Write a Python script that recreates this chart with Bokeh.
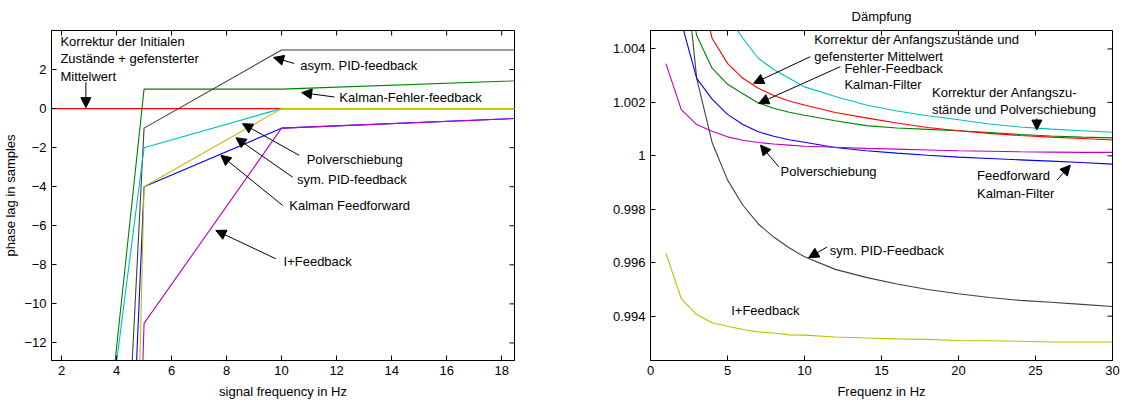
from bokeh.plotting import figure
from bokeh.models import Range1d, FixedTicker, Arrow, NormalHead
from bokeh.layouts import row
from bokeh.core.properties import value
from bokeh.embed import file_html
from bokeh.resources import INLINE

FONT = "Liberation Sans"
FS = "13px"
FRAME_H = 330
TICK_PX = 5

# ---------------- phase lag vs. signal frequency ----------------
lag_freq = [1, 5, 10, 20]
lag_mittelwert = [0, 0, 0, 0]
lag_kalman_fehler = [-52, 1, 1, 1.5]
lag_asym_pid = [-112, -1, 3, 3]
lag_polverschiebung = [-46, -2, 0, 0]
lag_kalman_ff = [-136, -4, -1, -0.42]
lag_sym_pid = [-241, -4, 0, 0]
lag_i_feedback = [-201, -11, -1, -0.42]

lag_xticks = [2, 4, 6, 8, 10, 12, 14, 16, 18]
lag_yticks = [-12, -10, -8, -6, -4, -2, 0, 2]

# ---------------- Dämpfung vs. frequency ----------------
damp_freq = [1, 2, 3, 4, 5, 6, 7, 8, 9, 10, 12, 14, 16, 18, 20, 22, 24, 26, 28, 30]
damp_korr_mittelwert = [1.03, 1.013, 1.0068, 1.0044, 1.00346, 1.0029, 1.00253, 1.00226, 1.00205, 1.0019,
                        1.00162, 1.00142, 1.00123, 1.00106, 1.00094, 1.00084, 1.00076, 1.0007, 1.00065, 1.00059]
damp_fehler_ff = [1.016, 1.0075, 1.0045, 1.00328, 1.00268, 1.00232, 1.00198, 1.00178, 1.00163, 1.00152,
                  1.00131, 1.00113, 1.00104, 1.00099, 1.00094, 1.00087, 1.0008, 1.00074, 1.0007, 1.00067]
damp_korr_polver = [1.04, 1.02, 1.012, 1.0075, 1.0052, 1.0044, 1.00365, 1.00323, 1.0029, 1.00258,
                    1.00222, 1.0019, 1.00168, 1.0015, 1.00135, 1.00119, 1.00108, 1.001, 1.00094, 1.00088]
damp_feedforward = [1.009, 1.005, 1.0029, 1.00212, 1.00155, 1.00117, 1.0009, 1.00073, 1.0006, 1.00051,
                    1.00031, 1.00019, 1.0001, 1.00002, 0.99995, 0.9999, 0.99985, 0.9998, 0.99975, 0.99969]
damp_polverschiebung = [1.00345, 1.00173, 1.00117, 1.00092, 1.00071, 1.00058, 1.0005, 1.00044, 1.0004, 1.00036,
                        1.00032, 1.00028, 1.00025, 1.00022, 1.00019, 1.00017, 1.00015, 1.00014, 1.00013, 1.00013]
damp_sym_pid = [1.018, 1.0085, 1.0029, 1.0005, 0.9991, 0.99815, 0.99745, 0.99696, 0.99656, 0.99622,
                0.99575, 0.99545, 0.9952, 0.995, 0.99484, 0.9947, 0.99459, 0.99452, 0.99444, 0.99436]
damp_i_feedback = [0.99636, 0.99465, 0.99406, 0.99375, 0.99362, 0.9935, 0.99341, 0.99337, 0.9933, 0.99329,
                   0.99322, 0.99318, 0.99315, 0.99313, 0.99309, 0.99308, 0.99306, 0.99303, 0.99303, 0.99303]

damp_xticks = [0, 5, 10, 15, 20, 25, 30]
damp_yticks = [0.994, 0.996, 0.998, 1.0, 1.002, 1.004]
damp_ylabels = ["0.994", "0.996", "0.998", "1", "1.002", "1.004"]

RED, GREEN, BLUE = "#ff0000", "#008000", "#0000ff"
CYAN, MAGENTA, OLIVE, GRAY = "#00bfbf", "#bf00bf", "#bfbf00", "#404040"

# annotation texts and where they sit (data coordinates)
lag_note_text = ["Korrektur der Initialen", "Zustände + gefensterter", "Mittelwert",
                 "asym. PID-feedback", "Kalman-Fehler-feedback", "Polverschiebung",
                 "sym. PID-feedback", "Kalman Feedforward", "I+Feedback"]
lag_note_x = [1.96, 1.96, 1.96, 10.68, 12.10, 10.91, 10.56, 10.28, 10.07]
lag_note_y = [3.415, 2.564, 1.656, 2.22, 0.564, -2.585, -3.64, -4.96, -7.82]
lag_arrows = [(2.885, 1.35, 2.885, 0.05), (10.46, 2.31, 9.71, 2.62), (11.92, 0.595, 10.73, 0.82),
              (10.64, -2.395, 8.58, -0.77), (10.40, -3.51, 8.34, -1.49),
              (10.04, -4.96, 7.79, -2.39), (9.79, -7.69, 7.61, -6.24)]

damp_title = "Dämpfung"
damp_note_text = ["Korrektur der Anfangszustände und", "gefensterter Mittelwert",
                  "Fehler-Feedback", "Kalman-Filter",
                  "Korrektur der Anfangszu-", "stände und Polverschiebung",
                  "Feedforward", "Kalman-Filter", "Polverschiebung", "sym. PID-Feedback", "I+Feedback"]
damp_note_x = [10.64, 10.64, 12.59, 12.59, 18.28, 18.28, 21.2, 21.2, 8.44, 11.64, 5.24]
damp_note_y = [1.004364, 1.003712, 1.003277, 1.002651, 1.002362, 1.00174,
               0.99925, 0.99859, 0.9994, 0.996464, 0.994214]
damp_arrows = [(10.38, 1.003712, 6.70, 1.002715), (12.33, 1.003337, 7.03, 1.001965),
               (25.09, 1.001402, 25.09, 1.000964), (26.39, 0.999089, 27.26, 0.999651),
               (8.33, 0.999588, 7.14, 1.000401), (11.47, 0.996588, 10.27, 0.99619)]


def style_axis(ax, ticks, label_standoff, overrides=None):
    ax.ticker = FixedTicker(ticks=ticks)
    ax.major_tick_in = TICK_PX
    ax.major_tick_out = 0
    ax.minor_tick_line_color = None
    ax.axis_line_color = "black"
    ax.major_tick_line_color = "black"
    ax.major_label_text_font = FONT
    ax.major_label_text_font_size = FS
    ax.major_label_text_color = "black"
    ax.axis_label_text_font = FONT
    ax.axis_label_text_font_size = FS
    ax.axis_label_text_font_style = "normal"
    ax.axis_label_text_color = "black"
    ax.axis_label_standoff = label_standoff
    ax.major_label_standoff = 5
    if overrides:
        ax.major_label_overrides = overrides


def make_fig(xr, yr, left, right):
    p = figure(frame_width=1122 // 2 - left - right, frame_height=FRAME_H,
               x_range=Range1d(*xr), y_range=Range1d(*yr),
               output_backend="svg", toolbar_location=None,
               min_border_left=left, min_border_right=right,
               min_border_top=30, min_border_bottom=41)
    p.grid.visible = False
    p.outline_line_color = "black"
    p.outline_line_width = 1
    p.background_fill_color = "white"
    p.border_fill_color = "white"
    return p


def add_box_ticks(p, xticks, yticks):
    # inward tick marks on the top and right edges of the box
    xr, yr = p.x_range, p.y_range
    dy = TICK_PX * (yr.end - yr.start) / FRAME_H
    dx = TICK_PX * (xr.end - xr.start) / p.frame_width
    p.segment(x0=xticks, y0=[yr.end] * len(xticks), x1=xticks, y1=[yr.end - dy] * len(xticks),
              line_color="black", line_width=1)
    p.segment(x0=[xr.end] * len(yticks), y0=yticks, x1=[xr.end - dx] * len(yticks), y1=yticks,
              line_color="black", line_width=1)


def add_notes(p, xs, ys, texts, arrows):
    p.text(x=xs, y=ys, text=texts, text_font=value(FONT), text_font_size=FS,
           text_color="black", text_align="left", text_baseline="middle")
    for x0, y0, x1, y1 in arrows:
        p.add_layout(Arrow(x_start=x0, y_start=y0, x_end=x1, y_end=y1,
                           line_color="black", line_width=1,
                           end=NormalHead(size=10, fill_color="black", line_color="black", line_width=1)))


# ---- left: phase lag ----
p1 = make_fig((1.636, 18.466), (-12.9, 4.0), 51, 47)
style_axis(p1.xaxis[0], lag_xticks, 6)
style_axis(p1.yaxis[0], lag_yticks, 3)
p1.xaxis[0].axis_label = "signal frequency in Hz"
p1.yaxis[0].axis_label = "phase lag in samples"
add_box_ticks(p1, lag_xticks, lag_yticks)

for ys, col in [(lag_mittelwert, RED), (lag_kalman_fehler, GREEN), (lag_asym_pid, GRAY),
                (lag_polverschiebung, CYAN), (lag_kalman_ff, BLUE), (lag_sym_pid, OLIVE),
                (lag_i_feedback, MAGENTA)]:
    p1.line(lag_freq, ys, line_color=col, line_width=1.1)
add_notes(p1, lag_note_x, lag_note_y, lag_note_text, lag_arrows)

# ---- right: Dämpfung ----
p2 = make_fig((0, 30), (0.99234, 1.00469), 89, 10)
style_axis(p2.xaxis[0], damp_xticks, 6)
style_axis(p2.yaxis[0], damp_yticks, 3, overrides=dict(zip(damp_yticks, damp_ylabels)))
p2.xaxis[0].axis_label = "Frequenz in Hz"
add_box_ticks(p2, damp_xticks, damp_yticks)
p2.title.text = damp_title
p2.title.align = "center"
p2.title.text_font = FONT
p2.title.text_font_size = FS
p2.title.text_font_style = "normal"
p2.title.text_color = "black"
p2.title.text_line_height = 1.0
p2.title.standoff = 13

for ys, col in [(damp_i_feedback, OLIVE), (damp_sym_pid, GRAY), (damp_korr_polver, CYAN),
                (damp_fehler_ff, GREEN), (damp_korr_mittelwert, RED),
                (damp_feedforward, BLUE), (damp_polverschiebung, MAGENTA)]:
    p2.line(damp_freq, ys, line_color=col, line_width=1.1)
add_notes(p2, damp_note_x, damp_note_y, damp_note_text, damp_arrows)

layout = row(p1, p2)
open("out.html", "w").write(file_html(layout, INLINE))
